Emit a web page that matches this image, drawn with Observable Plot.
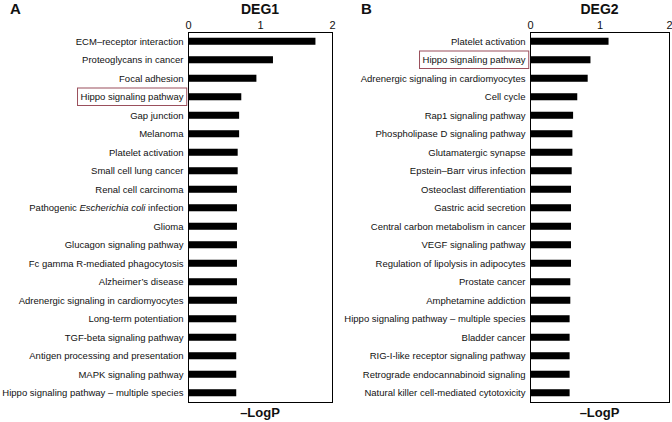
<!DOCTYPE html>
<html>
<head>
<meta charset="utf-8">
<script src="https://cdn.jsdelivr.net/npm/d3@7"></script>
<script src="https://cdn.jsdelivr.net/npm/@observablehq/plot@0.6"></script>
<style>
  html, body { margin: 0; padding: 0; background: #fff; }
  #chart { position: relative; width: 672px; height: 422px; font-family: "Liberation Sans", Arial, sans-serif; color: #111; }
  .panel { position: absolute; top: 0; width: 336px; height: 422px; }
  .lbl { position: absolute; font-weight: bold; white-space: nowrap; line-height: 1; }
</style>
</head>
<body>
<div id="chart"></div>
<script>
// ---- data ----
const panelLetters = ["A", "B"];
const panelTitles = ["DEG1", "DEG2"];
const axisTitle = "–LogP";
const xTicks = [0, 1, 2];
const highlight = "Hippo signaling pathway";
const italicLabel = "Pathogenic Escherichia coli infection";
const italicPart = "Escherichia coli";

const categoriesA = [
  "ECM–receptor interaction",
  "Proteoglycans in cancer",
  "Focal adhesion",
  "Hippo signaling pathway",
  "Gap junction",
  "Melanoma",
  "Platelet activation",
  "Small cell lung cancer",
  "Renal cell carcinoma",
  "Pathogenic Escherichia coli infection",
  "Glioma",
  "Glucagon signaling pathway",
  "Fc gamma R-mediated phagocytosis",
  "Alzheimer’s disease",
  "Adrenergic signaling in cardiomyocytes",
  "Long-term potentiation",
  "TGF-beta signaling pathway",
  "Antigen processing and presentation",
  "MAPK signaling pathway",
  "Hippo signaling pathway – multiple species"
];
const valuesA = [1.77, 1.18, 0.95, 0.74, 0.71, 0.71, 0.69, 0.69, 0.68, 0.68,
                 0.68, 0.68, 0.68, 0.68, 0.68, 0.67, 0.67, 0.67, 0.67, 0.67];

const categoriesB = [
  "Platelet activation",
  "Hippo signaling pathway",
  "Adrenergic signaling in cardiomyocytes",
  "Cell cycle",
  "Rap1 signaling pathway",
  "Phospholipase D signaling pathway",
  "Glutamatergic synapse",
  "Epstein–Barr virus infection",
  "Osteoclast differentiation",
  "Gastric acid secretion",
  "Central carbon metabolism in cancer",
  "VEGF signaling pathway",
  "Regulation of lipolysis in adipocytes",
  "Prostate cancer",
  "Amphetamine addiction",
  "Hippo signaling pathway – multiple species",
  "Bladder cancer",
  "RIG-I-like receptor signaling pathway",
  "Retrograde endocannabinoid signaling",
  "Natural killer cell-mediated cytotoxicity"
];
const valuesB = [1.13, 0.87, 0.83, 0.68, 0.62, 0.61, 0.61, 0.60, 0.59, 0.59,
                 0.59, 0.59, 0.59, 0.58, 0.58, 0.57, 0.57, 0.57, 0.57, 0.57];

// ---- layout ----
const chart = document.getElementById("chart");
const panels = [
  {cats: categoriesA, vals: valuesA, left: 0, marginLeft: 188, marginRight: 4, letterX: 10},
  {cats: categoriesB, vals: valuesB, left: 336, marginLeft: 194, marginRight: 3, letterX: 25}
];

panels.forEach((p, i) => {
  const data = p.cats.map((c, j) => ({name: c, value: p.vals[j]}));
  const div = document.createElement("div");
  div.className = "panel";
  div.style.left = p.left + "px";
  chart.appendChild(div);

  const svg = Plot.plot({
    width: 336,
    height: 422,
    marginTop: 32,
    marginBottom: 20,
    marginLeft: p.marginLeft,
    marginRight: p.marginRight,
    style: {fontFamily: "Liberation Sans, Arial, sans-serif", color: "#111", background: "transparent", overflow: "visible"},
    x: {domain: [0, 2]},
    y: {domain: p.cats, paddingInner: 0.62, paddingOuter: 0.31, round: false},
    marks: [
      Plot.barX(data, {x: "value", y: "name", fill: "#000"}),
      Plot.frame({stroke: "#000", strokeWidth: 1}),
      Plot.axisX({anchor: "top", ticks: xTicks, tickSize: 0, tickPadding: 4, fontSize: 11, label: null, tickFormat: d => String(d)}),
      Plot.axisY({anchor: "left", tickSize: 0, tickPadding: 5, fontSize: 9.5, label: null})
    ]
  });
  div.appendChild(svg);

  // italic species name
  svg.querySelectorAll("text").forEach(t => {
    if (t.textContent === italicLabel) {
      const [pre, post] = italicLabel.split(italicPart);
      t.textContent = "";
      const ns = "http://www.w3.org/2000/svg";
      [[pre, false], [italicPart, true], [post, false]].forEach(([s, it]) => {
        const ts = document.createElementNS(ns, "tspan");
        ts.textContent = s;
        if (it) ts.setAttribute("font-style", "italic");
        t.appendChild(ts);
      });
    }
  });

  // highlight box around label
  const yScale = svg.scale("y");
  const svgRect = svg.getBoundingClientRect();
  svg.querySelectorAll("text").forEach(t => {
    if (t.textContent === highlight) {
      const r = t.getBoundingClientRect();
      const start = yScale.apply(highlight);
      const step = yScale.step;
      const gap = (step - yScale.bandwidth) / 2;
      const rect = document.createElementNS("http://www.w3.org/2000/svg", "rect");
      rect.setAttribute("x", r.left - svgRect.left - 3);
      rect.setAttribute("y", start - gap + 0.5);
      rect.setAttribute("width", r.width + 6);
      rect.setAttribute("height", step - 1);
      rect.setAttribute("fill", "none");
      rect.setAttribute("stroke", "#9a4f5c");
      rect.setAttribute("stroke-width", 1);
      svg.appendChild(rect);
    }
  });

  // titles
  const xs = svg.scale("x");
  const center = p.left + (xs.apply(0) + xs.apply(2)) / 2;
  const letter = document.createElement("div");
  letter.className = "lbl";
  letter.style.cssText = `left:${p.left + p.letterX}px;top:1px;font-size:15px;`;
  letter.textContent = panelLetters[i];
  chart.appendChild(letter);

  const title = document.createElement("div");
  title.className = "lbl";
  title.style.cssText = `left:${center}px;top:2px;font-size:14px;transform:translateX(-50%);`;
  title.textContent = panelTitles[i];
  chart.appendChild(title);

  const xt = document.createElement("div");
  xt.className = "lbl";
  xt.style.cssText = `left:${center}px;top:406px;font-size:13px;transform:translateX(-50%);`;
  xt.textContent = axisTitle;
  chart.appendChild(xt);
});
</script>
</body>
</html>
